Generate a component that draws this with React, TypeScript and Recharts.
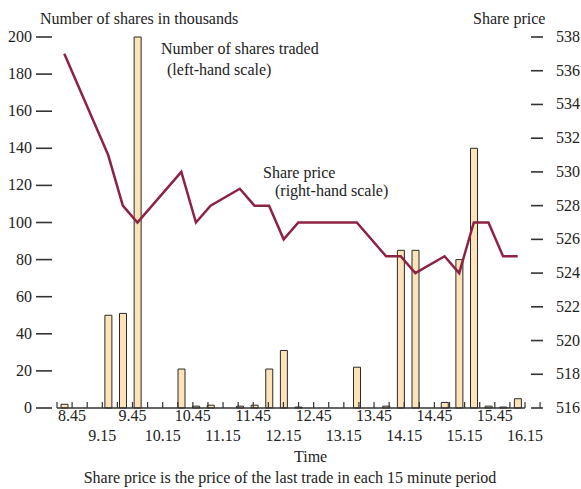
import { ComposedChart, Bar, Line, XAxis, YAxis } from 'recharts'

// 15 minute periods, by start time
const PERIODS = [
  '8.30', '8.45', '9.00', '9.15', '9.30', '9.45', '10.00', '10.15',
  '10.30', '10.45', '11.00', '11.15', '11.30', '11.45', '12.00', '12.15',
  '12.30', '12.45', '13.00', '13.15', '13.30', '13.45', '14.00', '14.15',
  '14.30', '14.45', '15.00', '15.15', '15.30', '15.45', '16.00', '16.15',
]

// number of shares traded, thousands
const SHARES = [
  2, 0, 0, 50, 51, 200, 0, 0,
  21, 1, 1.5, 0, 1, 1.5, 21, 31,
  0.5, 0, 0, 0, 22, 0, 1, 85,
  85, 0, 3, 80, 140, 1, 0.5, 5,
]

// price of last trade in the period (null = no trade)
const PRICE = [
  537, null, null, 531, 528, 527, null, null,
  530, 527, 528, null, 529, 528, 528, 526,
  527, null, null, null, 527, null, 525, 525,
  524, null, 525, 524, 527, 527, 525, 525,
]

const TIME_LABELS = [
  '8.45', '9.15', '9.45', '10.15', '10.45', '11.15', '11.45', '12.15',
  '12.45', '13.15', '13.45', '14.15', '14.45', '15.15', '15.45', '16.15',
]

const LEFT_TICKS = [0, 20, 40, 60, 80, 100, 120, 140, 160, 180, 200]
const RIGHT_TICKS = [516, 518, 520, 522, 524, 526, 528, 530, 532, 534, 536, 538]

const data = PERIODS.map((p, i) => ({ period: p, shares: SHARES[i], price: PRICE[i] }))
const edges = PERIODS.map((_, i) => i).concat(PERIODS.length)

const W = 581
const H = 489
const FONT = '"Liberation Serif", "Times New Roman", serif'
const INK = '#222'
const BAR_FILL = '#FDE3B7'
const LINE_COLOR = '#8C2342'

const LeftTick = ({ x, y, payload }: any) => (
  <g>
    <line x1={x - 21} x2={x - 5} y1={y} y2={y} stroke="#333" strokeWidth={1.6} />
    <text x={x - 25} y={y + 5} textAnchor="end" fontFamily={FONT} fontSize={16} fill={INK}>
      {payload.value}
    </text>
  </g>
)

const RightTick = ({ x, y, payload }: any) => (
  <g>
    <line x1={x + 6} x2={x + 18} y1={y} y2={y} stroke="#333" strokeWidth={1.6} />
    <text x={x + 31} y={y + 5} textAnchor="start" fontFamily={FONT} fontSize={16} fill={INK}>
      {payload.value}
    </text>
  </g>
)

// tick marks sit on period boundaries; times label every other boundary in two rows
const EdgeTick = ({ x, y, payload }: any) => {
  const b = payload.value
  const k = (b - 1) / 2
  const label = b % 2 === 1 ? TIME_LABELS[k] : null
  return (
    <g>
      <line x1={x} x2={x} y1={y} y2={y - 6} stroke="#333" strokeWidth={1.2} />
      {label && (
        <text x={x} y={y + (k % 2 === 0 ? 13 : 33)} textAnchor="middle" fontFamily={FONT} fontSize={16} fill={INK}>
          {label}
        </text>
      )}
    </g>
  )
}

const NOTES = [
  { x: 40, y: 24, text: 'Number of shares in thousands' },
  { x: 473, y: 24, text: 'Share price' },
  { x: 161, y: 54, text: 'Number of shares traded' },
  { x: 167, y: 75, text: '(left-hand scale)' },
  { x: 263, y: 178, text: 'Share price' },
  { x: 275, y: 196, text: '(right-hand scale)' },
  { x: 294, y: 462, text: 'Time' },
]

export default function App() {
  return (
    <div style={{ position: 'fixed', left: 0, top: 0, width: W, height: H, overflow: 'hidden', background: '#fff' }}>
      <ComposedChart width={W} height={H} data={data} margin={{ top: 37, right: 0, bottom: 51, left: 0 }}>
        <XAxis dataKey="period" hide height={0} />
        <XAxis
          xAxisId="edges"
          type="number"
          domain={[0, PERIODS.length]}
          allowDataOverflow
          ticks={edges}
          interval={0}
          height={30}
          tickSize={0}
          tickMargin={0}
          tickLine={false}
          axisLine={{ stroke: '#333', strokeWidth: 1.4 }}
          tick={<EdgeTick />}
        />
        <YAxis
          yAxisId="left"
          domain={[0, 200]}
          ticks={LEFT_TICKS}
          interval={0}
          width={57}
          axisLine={false}
          tickLine={false}
          tickSize={0}
          tickMargin={0}
          tick={<LeftTick />}
        />
        <YAxis
          yAxisId="right"
          orientation="right"
          domain={[516, 538]}
          ticks={RIGHT_TICKS}
          interval={0}
          width={56}
          axisLine={false}
          tickLine={false}
          tickSize={0}
          tickMargin={0}
          tick={<RightTick />}
        />
        <Bar
          yAxisId="left"
          dataKey="shares"
          barSize={7}
          fill={BAR_FILL}
          stroke="#2a2a2a"
          strokeWidth={1}
          isAnimationActive={false}
        />
        <Line
          yAxisId="right"
          dataKey="price"
          type="linear"
          stroke={LINE_COLOR}
          strokeWidth={2.5}
          dot={false}
          connectNulls
          isAnimationActive={false}
        />
      </ComposedChart>
      <svg width={W} height={H} style={{ position: 'absolute', left: 0, top: 0, pointerEvents: 'none' }}>
        {NOTES.map((n) => (
          <text key={n.text + n.y} x={n.x} y={n.y} fontFamily={FONT} fontSize={16} fill={INK}>
            {n.text}
          </text>
        ))}
        <text x={290} y={483} textAnchor="middle" fontFamily={FONT} fontSize={16} fill={INK}>
          Share price is the price of the last trade in each 15 minute period
        </text>
      </svg>
    </div>
  )
}
